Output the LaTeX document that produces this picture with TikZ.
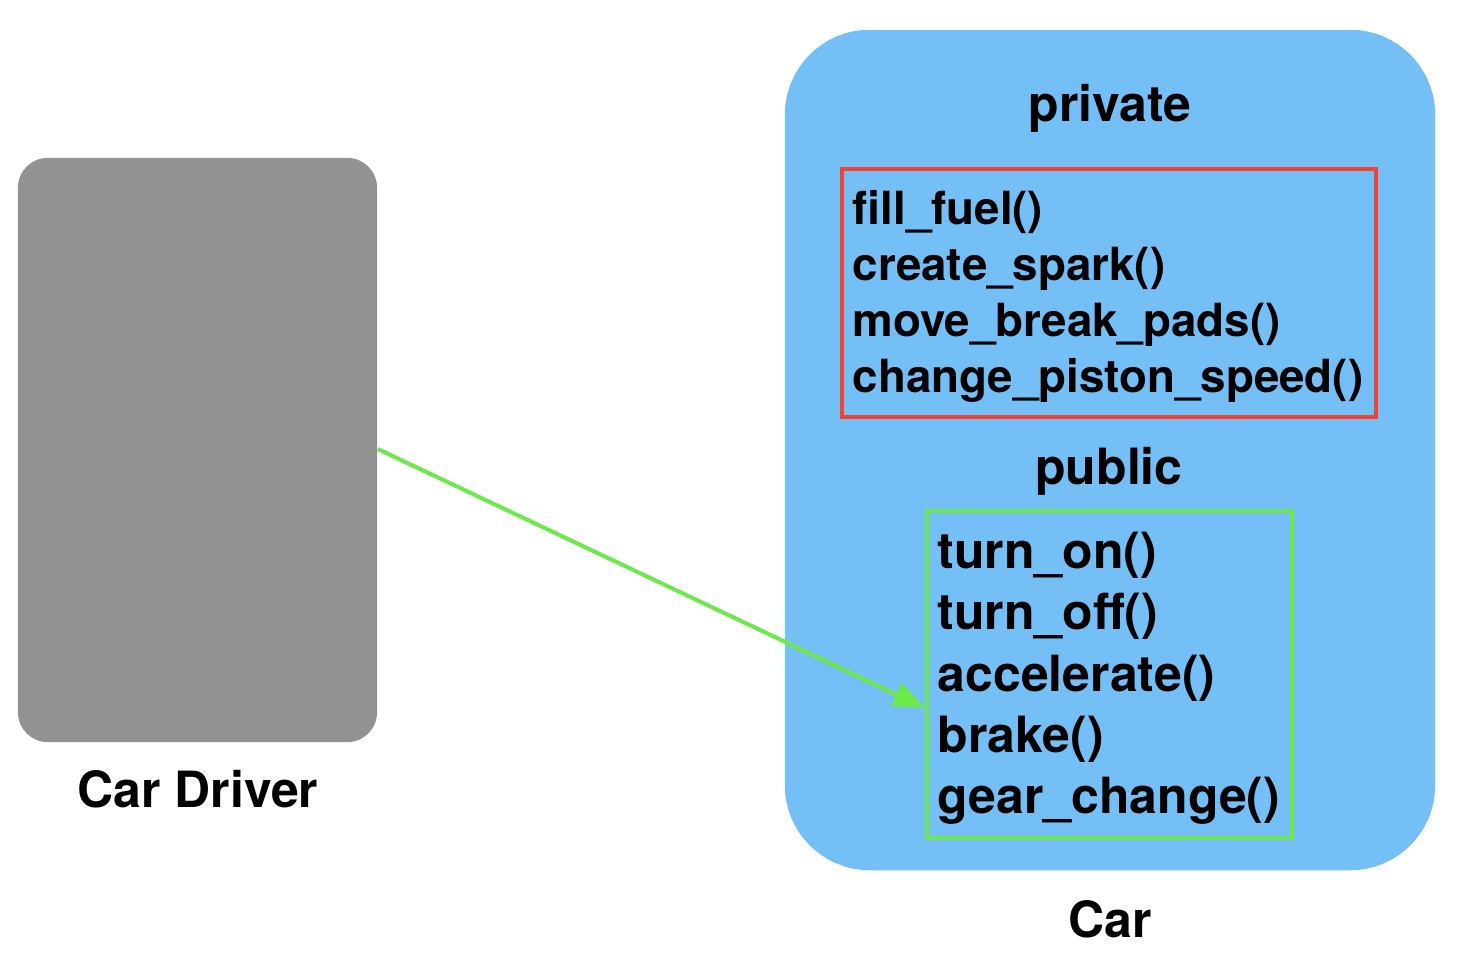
\documentclass[tikz,border=0pt]{standalone}
\usepackage{fontspec}
\setmainfont{TeX Gyre Heros}
\usetikzlibrary{arrows.meta}
\definecolor{drivergray}{HTML}{929292}
\definecolor{carblue}{HTML}{75BFF7}
\definecolor{privred}{HTML}{E8473A}
\definecolor{pubgreen}{HTML}{6EE94B}
\tikzset{
  title/.style={anchor=base, inner sep=0, font=\bfseries\fontsize{14.2pt}{17pt}\selectfont},
  privitem/.style={anchor=base west, inner sep=0, font=\bfseries\fontsize{13pt}{16pt}\selectfont},
  pubitem/.style={anchor=base west, inner sep=0, font=\bfseries\fontsize{14.2pt}{17pt}\selectfont},
  box/.style={inner sep=0, draw, line width=1.15pt},
}
\begin{document}
\begin{tikzpicture}[x=0.01cm,y=-0.01cm]
\useasboundingbox (0,0) rectangle (1458,958);
% car driver
\node[fill=drivergray, rounded corners=0.3cm, minimum width=3.59cm, minimum height=5.84cm, inner sep=0] (driver) at (197.5,450) {};
\node[title] (drivertxt) at (198,807) {Car Driver};
% car
\node[fill=carblue, rounded corners=0.85cm, minimum width=6.5cm, minimum height=8.4cm, inner sep=0] (car) at (1110,450) {};
\node[title] (cartxt) at (1110,937) {Car};
\node[title] (privtxt) at (1110,122) {private};
\node[box, draw=privred, minimum width=5.34cm, minimum height=2.48cm] (priv) at (1109,293) {};
\node[privitem] (p1) at (852,225) {fill\_fuel()};
\node[privitem] (p2) at (852,281) {create\_spark()};
\node[privitem] (p3) at (852,337) {move\_break\_pads()};
\node[privitem] (p4) at (852,393) {change\_piston\_speed()};
\node[title] (pubtxt) at (1109,485) {public};
\node[box, draw=pubgreen, minimum width=3.65cm, minimum height=3.27cm] (pub) at (1109.5,674.5) {};
\node[pubitem] (q1) at (937,568) {turn\_on()};
\node[pubitem] (q2) at (937,629) {turn\_off()};
\node[pubitem] (q3) at (937,691) {accelerate()};
\node[pubitem] (q4) at (937,752) {brake()};
\node[pubitem] (q5) at (937,813) {gear\_change()};
% connector
\coordinate (target) at ([yshift=-0.335cm]pub.west);
\draw[pubgreen, line width=1.15pt, -{Triangle[length=9pt,width=7pt]}] ([yshift=0.01cm]driver.east) -- (target);
\end{tikzpicture}
\end{document}
